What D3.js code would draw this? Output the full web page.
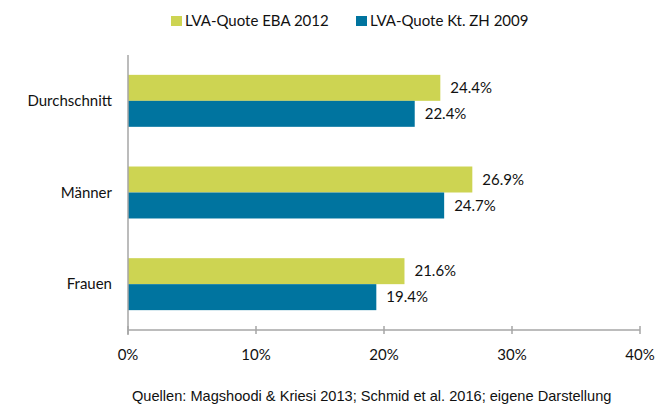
<!DOCTYPE html>
<html>
<head>
<meta charset="utf-8">
<script src="https://cdn.jsdelivr.net/npm/d3@7"></script>
<style>
  body { margin: 0; background: #fff; }
  text { font-family: Lato, "Open Sans", sans-serif; fill: #111; }
</style>
</head>
<body>
<div id="chart"></div>
<script>
// data
var categories = ["Durchschnitt", "Männer", "Frauen"];
var seriesNames = ["LVA-Quote EBA 2012", "LVA-Quote Kt. ZH 2009"];
var ebaValues = [24.4, 26.9, 21.6];
var zhValues = [22.4, 24.7, 19.4];
var xTicks = [0, 10, 20, 30, 40];
var colors = ["#cdd452", "#00749f"];

var svgWidth = 666;
var svgHeight = 406;

var svg = d3.select("#chart")
  .append("svg")
  .attr("width", svgWidth)
  .attr("height", svgHeight);

var x = d3.scaleLinear()
  .domain([0, 40])
  .range([128, 640]);

var y = d3.scaleBand()
  .domain(categories)
  .range([55, 330])
  .paddingInner(0.433)
  .paddingOuter(0.2165);

var sub = d3.scaleBand()
  .domain([0, 1])
  .range([0, y.bandwidth()]);

var rows = categories.map(function(c, i) {
  return {cat: c, vals: [ebaValues[i], zhValues[i]]};
});

// bars
var groups = svg.selectAll(".row")
  .data(rows)
  .enter()
  .append("g")
  .attr("class", "row")
  .attr("transform", d => `translate(0, ${y(d.cat)})`);

groups.selectAll("rect")
  .data(d => d.vals)
  .enter()
  .append("rect")
  .attr("x", x(0))
  .attr("y", (d, i) => sub(i))
  .attr("width", d => x(d) - x(0))
  .attr("height", sub.bandwidth())
  .attr("fill", (d, i) => colors[i]);

groups.selectAll(".val")
  .data(d => d.vals)
  .enter()
  .append("text")
  .attr("class", "val")
  .attr("x", d => x(d) + 10)
  .attr("y", (d, i) => sub(i) + sub.bandwidth() / 2)
  .attr("dy", "0.35em")
  .style("font-size", "15px")
  .text(d => d.toFixed(1) + "%");

// axes
var axisColor = "#a6a6a6";

svg.append("line")
  .attr("x1", x(0)).attr("x2", x(0))
  .attr("y1", 55).attr("y2", 335)
  .attr("stroke", axisColor)
  .attr("stroke-width", 1.5);

svg.append("line")
  .attr("x1", x(0)).attr("x2", x(40))
  .attr("y1", 330).attr("y2", 330)
  .attr("stroke", axisColor)
  .attr("stroke-width", 1.5);

svg.selectAll(".tick")
  .data(xTicks)
  .enter()
  .append("line")
  .attr("class", "tick")
  .attr("x1", d => x(d)).attr("x2", d => x(d))
  .attr("y1", 326).attr("y2", 334)
  .attr("stroke", axisColor)
  .attr("stroke-width", 1.5);

svg.selectAll(".ticklabel")
  .data(xTicks)
  .enter()
  .append("text")
  .attr("class", "ticklabel")
  .attr("x", d => x(d))
  .attr("y", 355)
  .attr("dy", "0.35em")
  .attr("text-anchor", "middle")
  .style("font-size", "15px")
  .text(d => d + "%");

svg.selectAll(".catlabel")
  .data(categories)
  .enter()
  .append("text")
  .attr("class", "catlabel")
  .attr("x", 112)
  .attr("y", d => y(d) + y.bandwidth() / 2)
  .attr("dy", "0.35em")
  .attr("text-anchor", "end")
  .style("font-size", "15px")
  .text(d => d);

// legend
var legendX = [171, 356];
var legend = svg.selectAll(".legend")
  .data(seriesNames)
  .enter()
  .append("g")
  .attr("class", "legend")
  .attr("transform", (d, i) => `translate(${legendX[i]}, 16)`);

legend.append("rect")
  .attr("width", 11)
  .attr("height", 10)
  .attr("fill", (d, i) => colors[i]);

legend.append("text")
  .attr("x", 14)
  .attr("y", 5)
  .attr("dy", "0.35em")
  .style("font-size", "15px")
  .text(d => d);

// source note
svg.append("text")
  .attr("x", 132)
  .attr("y", 396)
  .attr("dy", "0.35em")
  .style("font-family", "'Liberation Sans', Arial, sans-serif")
  .style("font-size", "14.6px")
  .text("Quellen: Magshoodi & Kriesi 2013; Schmid et al. 2016; eigene Darstellung");
</script>
</body>
</html>
